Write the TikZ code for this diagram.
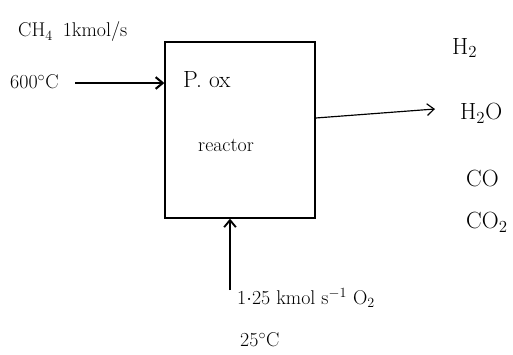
\documentclass[tikz,border=0pt]{standalone}
\usepackage{amsmath}
\usetikzlibrary{arrows.meta}
\usetikzlibrary{positioning}

\tikzset{
    flow/.style={-{Straight Barb[length=6pt,width=10pt]}, line width=1pt},
    label text/.style={font=\fontsize{17}{19}\selectfont, inner sep=0pt, anchor=west},
    big text/.style={label text, font=\fontsize{20}{22}\selectfont},
}

\begin{document}
\begin{tikzpicture}[x=0.03cm, y=-0.03cm]
        \useasboundingbox (0,0) rectangle (513,354);
        \node[draw, line width=1.1pt, minimum width=4.5cm, minimum height=5.28cm] (reactor) at (240,130) {};

        \node[label text] (feedname) at (18,32) {CH$_4$\enspace 1kmol/s}; % feed stream
        \node[label text] (feedtemp) at (10,82) {600$^\circ$C};
        \node[big text] (pox) at (183,80) {P. ox};
        \node[label text, anchor=center] (reactorname) at (226,145) {reactor};

        \node[big text] (h2) at (452,48) {H$_2$}; % products
        \node[big text] (h2o) at (460,113) {H$_2$O};
        \node[big text] (co) at (466,178) {CO};
        \node[big text] (co2) at (466,222) {CO$_2$};

        \node[label text] (oxname) at (237,298) {1$\cdot$25 kmol s$^{-1}$ O$_2$}; % oxygen feed
        \node[label text] (oxtemp) at (240,340) {25$^\circ$C};

        \coordinate (feed) at (75,83);
        \coordinate (product) at (435,109);
        \coordinate (oxin) at (230,290);

        \draw[flow, line width=1.8pt] (feed) -- (feed -| reactor.west);
        \draw[flow] (reactor.east |- 0,118) -- (product);
        \draw[flow, line width=1.6pt] (oxin) -- (oxin |- reactor.south);
    \end{tikzpicture}
\end{document}
